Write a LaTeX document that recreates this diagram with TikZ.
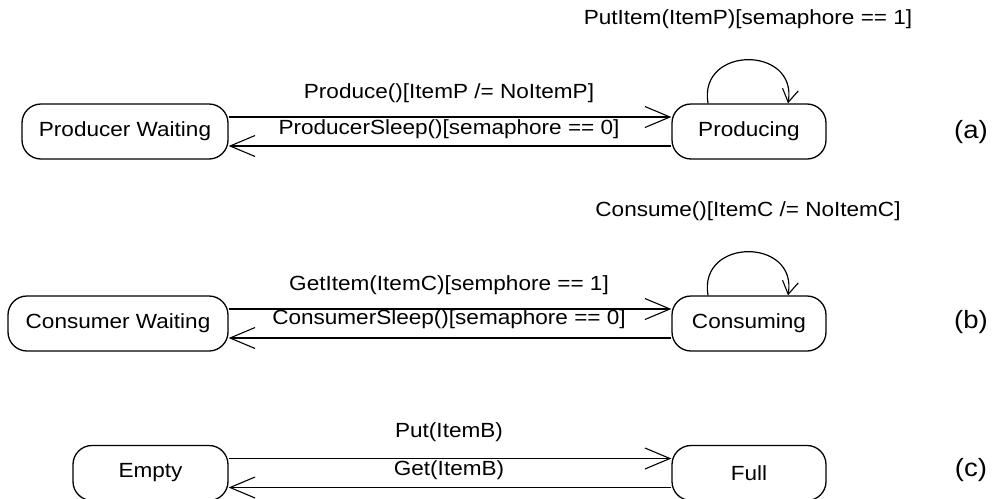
\documentclass[tikz,border=0pt]{standalone}
\usepackage{fontspec}
\setmainfont{Liberation Sans}[FakeStretch=1.1]
\usetikzlibrary{arrows.meta}
\begin{document}
\begin{tikzpicture}[x=1pt,y=-1pt,
  state/.style={draw,line width=1.3pt,rounded corners=19pt,minimum height=55pt,inner sep=0pt,font=\fontsize{20.5}{24}\selectfont},
  lbl/.style={inner sep=0pt,font=\fontsize{20.5}{24}\selectfont},
  tag/.style={inner sep=0pt,font=\fontsize{25}{28}\selectfont},
  arr/.style={line width=1.2pt,-{Straight Barb[length=25pt,width=21pt,line width=1.1pt]}},
  looparr/.style={line width=1.2pt,-{Straight Barb[length=13pt,width=16pt,line width=1.1pt]}}]
\useasboundingbox (0,0) rectangle (998,498);
% row (a)
\node[state,minimum width=206pt] (pw) at (125,131.5) {Producer Waiting};
\node[state,minimum width=154pt] (prod) at (749,131.5) {Producing};
\draw[arr] ([yshift=14.5pt]pw.east) -- ([yshift=14.5pt]prod.west);
\draw[arr] ([yshift=-14.5pt]prod.west) -- ([yshift=-14.5pt]pw.east);
\node[lbl] (la1) at (449,93) {Produce()[ItemP /= NoItemP]};
\node[lbl] (la2) at (449,129) {ProducerSleep()[semaphore == 0]};
\draw[looparr] ([xshift=-41pt]prod.north) .. controls +(-10,-58) and +(10,-58) .. ([xshift=39pt]prod.north);
\node[lbl] (la3) at (748,19) {PutItem(ItemP)[semaphore == 1]};
\node[tag] (ta) at (971,132) {(a)};
% row (b)
\node[state,minimum width=220pt] (cw) at (118,323.5) {Consumer Waiting};
\node[state,minimum width=154pt] (cons) at (749,323.5) {Consuming};
\draw[arr] ([yshift=14.5pt]cw.east) -- ([yshift=14.5pt]cons.west);
\draw[arr] ([yshift=-14.5pt]cons.west) -- ([yshift=-14.5pt]cw.east);
\node[lbl] (lb1) at (449,285) {GetItem(ItemC)[semphore == 1]};
\node[lbl] (lb2) at (449,319) {ConsumerSleep()[semaphore == 0]};
\draw[looparr] ([xshift=-41pt]cons.north) .. controls +(-10,-58) and +(10,-58) .. ([xshift=39pt]cons.north);
\node[lbl] (lb3) at (748,211) {Consume()[ItemC /= NoItemC]};
\node[tag] (tb) at (971,322) {(b)};
% row (c)
\node[state,minimum width=155pt] (empty) at (150.5,473) {Empty};
\node[state,minimum width=154pt] (full) at (749,473) {Full};
\draw[arr] ([yshift=14.5pt]empty.east) -- ([yshift=14.5pt]full.west);
\draw[arr] ([yshift=-14.5pt]full.west) -- ([yshift=-14.5pt]empty.east);
\node[lbl] (lc1) at (449,432) {Put(ItemB)};
\node[lbl] (lc2) at (449,470) {Get(ItemB)};
\node[tag] (tc) at (971,470) {(c)};
\end{tikzpicture}
\end{document}
